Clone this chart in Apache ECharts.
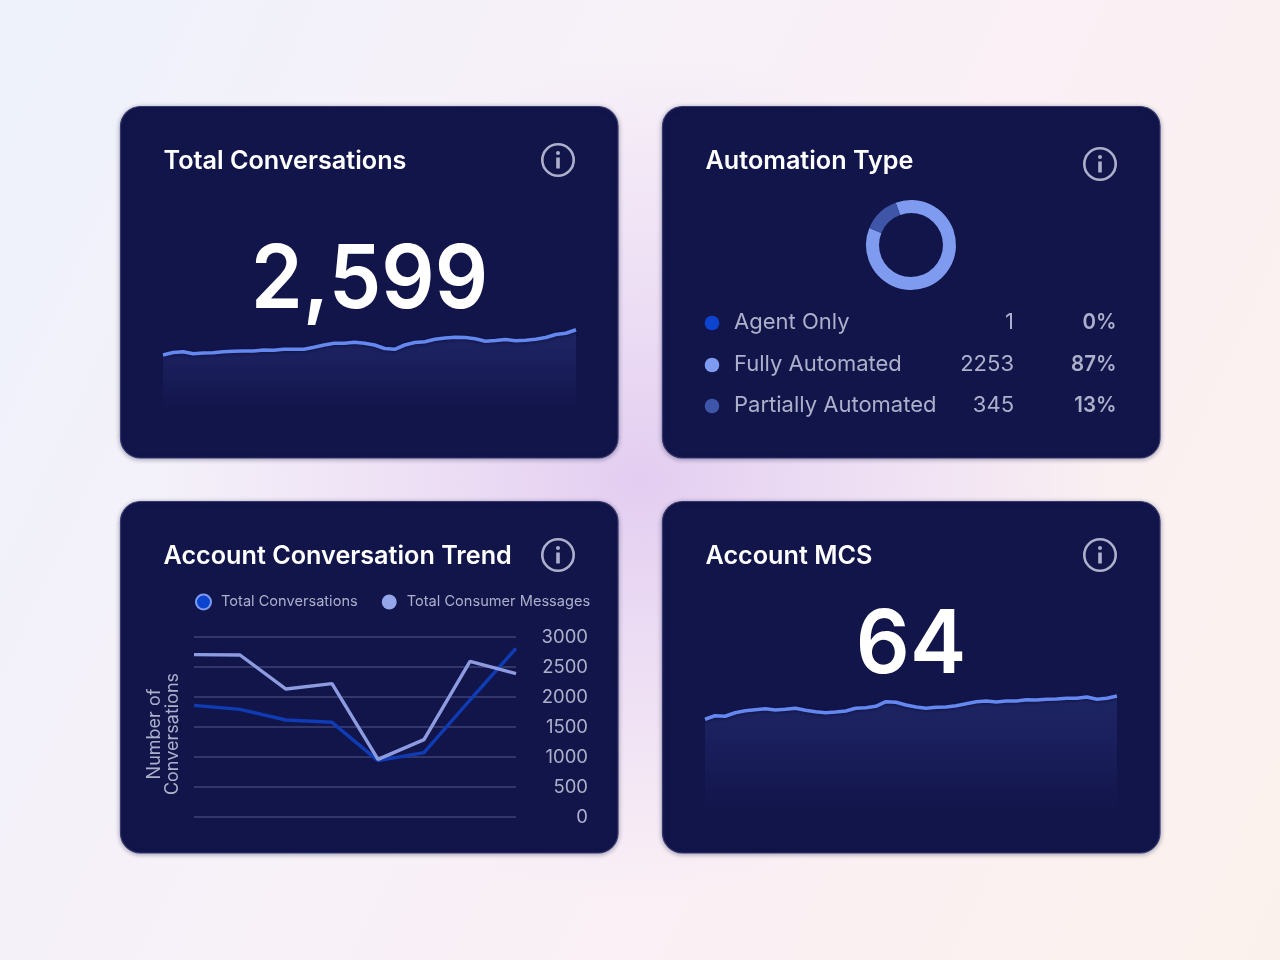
<!DOCTYPE html>
<html lang="en">
<head>
    <meta charset="UTF-8">
    <title>Conversations Dashboard</title>
    <script src="https://cdn.jsdelivr.net/npm/echarts@6/dist/echarts.min.js"></script>
    <style>
        html, body { margin: 0; padding: 0; }
        body {
            width: 1280px; height: 960px; overflow: hidden;
            background:
                radial-gradient(ellipse 480px 420px at 640px 480px, #e3cdf1 0%, rgba(232,214,243,0.8) 35%, rgba(240,228,246,0) 100%),
                linear-gradient(115deg, #edf2fb 0%, #f6f1f9 30%, #faf0f5 62%, #fbf1ec 100%);
        }
    </style>
</head>
<body>
<div id="main" style="width:1280px;height:960px;"></div>
<script>
    var font = 'Inter';
    // top left sparkline
    var totalConversationValues = [55, 57.5, 58.3, 56.2, 57, 57.3, 58.3, 58.8, 59, 59, 60, 59.8, 60.7, 60.7, 60.8, 62.8, 65, 66.7, 66.7, 67.7, 66.7, 65, 61.5, 60.7, 65, 67.5, 68.3, 70.7, 72, 72.7, 72.5, 71.2, 68.7, 69.5, 70.5, 69.2, 69.7, 70.7, 72.5, 75.5, 76.7, 80.3];
    // bottom right sparkline
    var mcsValues = [90.7, 94.3, 93.7, 97.3, 99.3, 100.3, 101.3, 100, 100.7, 101.7, 99.7, 98.3, 97.3, 98, 99, 101.7, 102.3, 103.7, 108.3, 107.7, 105, 103, 101.7, 102.7, 103, 104.3, 106.3, 108.3, 109, 108, 109, 109, 110.3, 110, 110.7, 111, 111.7, 111.7, 113, 110.7, 111.7, 114];
    // trend chart
    var trendConversations = [1861, 1794, 1617, 1578, 939, 1072, 1950, 2811];
    var trendMessages = [2706, 2700, 2133, 2222, 961, 1289, 2594, 2389];
    var trendTicks = [0, 1, 2, 3, 4, 5, 6, 7];
    // automation type
    var automationNames = ['Agent Only', 'Fully Automated', 'Partially Automated'];
    var automationCounts = [1, 2253, 345];
    var automationPercents = ['0%', '87%', '13%'];
    var automationColors = ['#0c44d0', '#7f9bf0', '#3f55a8'];

    var cardColor = '#12154a';
    var textGrey = '#acb0cb';
    var graphics = [];

    function addCard(x, y, w, h, title, iconY) {
        graphics.push({
            type: 'rect',
            shape: { x: x + 0.5, y: y + 0.5, width: w - 0.5, height: h - 0.5, r: 20 },
            style: { fill: cardColor, stroke: '#35386c', lineWidth: 1.2, shadowBlur: 5, shadowColor: 'rgba(20,20,70,0.35)', shadowOffsetY: 1 }
        });
        graphics.push({
            type: 'text', x: x + 43.5, y: y + 55.5,
            style: { text: title, fill: '#ffffff', font: '600 25.2px ' + font, textVerticalAlign: 'middle' }
        });
        // info icon
        var cx = x + w - 60;
        graphics.push({ type: 'circle', shape: { cx: cx, cy: iconY, r: 15.7 }, style: { fill: 'none', stroke: textGrey, lineWidth: 2.6 } });
        graphics.push({ type: 'circle', shape: { cx: cx, cy: iconY - 7, r: 2 }, style: { fill: textGrey } });
        graphics.push({ type: 'rect', shape: { x: cx - 1.8, y: iconY - 2.5, width: 3.6, height: 11 }, style: { fill: textGrey } });
    }

    addCard(120, 106, 498, 352, 'Total Conversations', 160);
    addCard(662, 106, 498, 352, 'Automation Type', 164);
    addCard(120, 501, 498, 352, 'Account Conversation Trend', 555);
    addCard(662, 501, 498, 352, 'Account MCS', 555);

    // big numbers, squeezed a little because the digits sit tighter than plain Inter
    graphics.push({ type: 'text', x: 369.5, y: 282, scaleX: 0.95, style: { text: '2,599', fill: '#fff', font: '600 88px ' + font, textAlign: 'center', textVerticalAlign: 'middle' } });
    graphics.push({ type: 'text', x: 911, y: 647, scaleX: 0.96, style: { text: '64', fill: '#fff', font: '600 88px ' + font, textAlign: 'center', textVerticalAlign: 'middle' } });

    // y axis title of trend chart
    graphics.push({
        type: 'text', x: 164, y: 734, rotation: Math.PI / 2,
        style: { text: 'Number of\nConversations', fill: textGrey, font: '400 18px ' + font, lineHeight: 18, textAlign: 'center', textVerticalAlign: 'middle' }
    });

    // automation table
    var rowY = [322.5, 364.5, 405.5];
    for (var i = 0; i < automationNames.length; i++) {
        graphics.push({ type: 'circle', shape: { cx: 712, cy: rowY[i] + 0.5, r: 7.3 }, style: { fill: automationColors[i] } });
        graphics.push({ type: 'text', x: 734, y: rowY[i], style: { text: automationNames[i], fill: textGrey, font: '400 22px ' + font, textVerticalAlign: 'middle' } });
        graphics.push({ type: 'text', x: 1014, y: rowY[i], style: { text: String(automationCounts[i]), fill: textGrey, font: '400 22px ' + font, textAlign: 'right', textVerticalAlign: 'middle' } });
        graphics.push({ type: 'text', x: 1116.5, y: rowY[i], scaleX: 0.93, style: { text: automationPercents[i], fill: textGrey, font: '600 22px ' + font, textAlign: 'right', textVerticalAlign: 'middle' } });
    }

    function indexList(arr) {
        return arr.map(function (v, idx) { return idx; });
    }

    function sparkSeries(data, axisIndex) {
        return {
            type: 'line', name: 'spark' + axisIndex, xAxisIndex: axisIndex, yAxisIndex: axisIndex,
            data: data, symbol: 'none', silent: true,
            lineStyle: { color: '#6488f0', width: 3.6, shadowColor: 'rgba(8,10,50,0.6)', shadowBlur: 3, shadowOffsetY: 1 },
            areaStyle: {
                origin: 'start',
                color: {
                    type: 'linear', x: 0, y: 0, x2: 0, y2: 1,
                    colorStops: [{ offset: 0, color: '#232c6e' }, { offset: 0.35, color: '#1e2566' }, { offset: 0.7, color: '#181c58' }, { offset: 1, color: cardColor }]
                }
            }
        };
    }

    var myChart = echarts.init(document.getElementById('main'));
    var option = {
        backgroundColor: 'transparent',
        animation: false,
        graphic: { elements: graphics },
        legend: {
            left: 195, top: 593.5, itemGap: 24, itemWidth: 15, itemHeight: 15, padding: 0,
            textStyle: { color: textGrey, fontFamily: font, fontSize: 14.6, padding: [0, 0, 0, 5] },
            data: [
                { name: 'Total Conversations', icon: 'circle', itemStyle: { color: '#0c44d0', borderColor: '#7f9bf0', borderWidth: 2 } },
                { name: 'Total Consumer Messages', icon: 'circle', itemStyle: { color: '#94a5ea', borderWidth: 0 } }
            ]
        },
        grid: [
            { left: 163, top: 310, width: 413, height: 100 },
            { left: 705, top: 690, width: 412, height: 120 },
            { left: 194, top: 637, width: 322, height: 180 }
        ],
        xAxis: [
            { gridIndex: 0, type: 'category', boundaryGap: false, show: false, data: indexList(totalConversationValues) },
            { gridIndex: 1, type: 'category', boundaryGap: false, show: false, data: indexList(mcsValues) },
            { gridIndex: 2, type: 'category', boundaryGap: false, data: trendTicks, axisLine: { show: false }, axisTick: { show: false }, axisLabel: { show: false } }
        ],
        yAxis: [
            { gridIndex: 0, type: 'value', min: 0, max: 100, show: false },
            { gridIndex: 1, type: 'value', min: 0, max: 120, show: false },
            {
                gridIndex: 2, type: 'value', position: 'right', min: 0, max: 3000, interval: 500,
                axisLine: { show: false }, axisTick: { show: false },
                splitLine: { lineStyle: { color: '#33366a', width: 2 } },
                axisLabel: { color: textGrey, fontFamily: font, fontSize: 18.5, align: 'right', margin: 72, padding: [0, 0, 1, 0], formatter: function (v) { return String(v); } }
            }
        ],
        series: [
            sparkSeries(totalConversationValues, 0),
            sparkSeries(mcsValues, 1),
            {
                type: 'line', name: 'Total Consumer Messages', xAxisIndex: 2, yAxisIndex: 2,
                data: trendMessages, symbol: 'none', lineStyle: { color: '#8d9be0', width: 3.4 }, z: 3
            },
            {
                type: 'line', name: 'Total Conversations', xAxisIndex: 2, yAxisIndex: 2,
                data: trendConversations, symbol: 'none', lineStyle: { color: '#0f3cb4', width: 3.4 }, z: 2
            },
            {
                type: 'pie', name: 'Automation Type', center: [911, 245], radius: [32, 45], startAngle: 110,
                silent: true, label: { show: false }, labelLine: { show: false },
                data: automationNames.map(function (n, idx) {
                    return { name: n, value: automationCounts[idx], itemStyle: { color: automationColors[idx] } };
                })
            }
        ]
    };
    myChart.setOption(option);
</script>
</body>
</html>
